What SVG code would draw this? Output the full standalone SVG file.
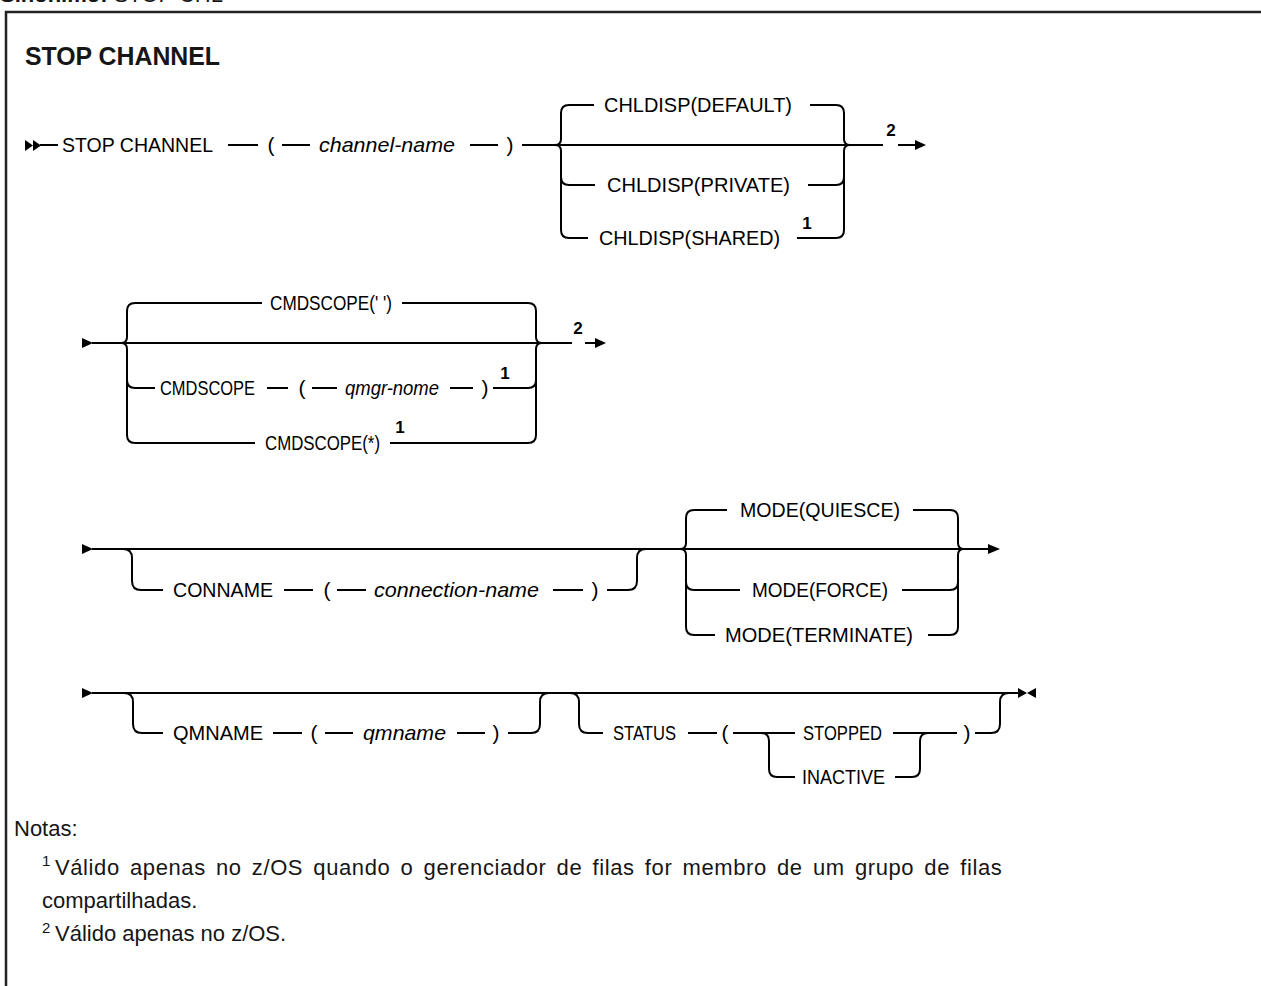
<svg xmlns="http://www.w3.org/2000/svg" width="1261" height="986" viewBox="0 0 1261 986">
<style>
.t{font-family:"Liberation Sans",Arial,sans-serif;font-size:21px;fill:#000;text-anchor:middle}
.i{font-style:italic}
.s{font-family:"Liberation Sans",Arial,sans-serif;font-size:17px;font-weight:bold;fill:#000;text-anchor:middle}
.n{font-family:"Liberation Sans",Arial,sans-serif;font-size:22px;fill:#161616}
.ns{font-family:"Liberation Sans",Arial,sans-serif;font-size:15px;fill:#161616}
.ln{fill:none;stroke:#000;stroke-width:2}
.ar{fill:#000}
</style>
<rect width="1261" height="986" fill="#fff"/>
<text x="0" y="2" class="n"><tspan font-weight="bold">Sinônimo:</tspan> STOP CHL</text>
<path d="M6,986 V12 H1261" fill="none" stroke="#222" stroke-width="2.5"/>
<text x="25" y="65" font-family="Liberation Sans,Arial,sans-serif" font-size="25" font-weight="bold" fill="#161616" textLength="195" lengthAdjust="spacingAndGlyphs">STOP CHANNEL</text>

<g id="connectors">
<!-- row 1 -->
<polygon class="ar" points="25,140 25,151 33,145.5"/>
<polygon class="ar" points="33,140 33,151 41,145.5"/>
<path class="ln" d="M40,145 H58 M228,145 H258 M282,145 H310 M470,145 H498 M522,145 H883 M898,145 H916"/>
<polygon class="ar" points="915,140 915,150 926,145"/>
<path class="ln" d="M561,113 V139 Q561,145 555,145 Q561,145 561,151 V230"/>
<path class="ln" d="M844,113 V139 Q844,145 850,145 Q844,145 844,151 V230"/>
<path class="ln" d="M561,113 Q561,105 569,105 H594 M810,105 H836 Q844,105 844,113"/>
<path class="ln" d="M561,177 Q561,185 569,185 H595 M808,185 H836 Q844,185 844,177"/>
<path class="ln" d="M561,230 Q561,238 569,238 H588 M797,238 H836 Q844,238 844,230"/>
<!-- row 2 -->
<polygon class="ar" points="82,338 82,348 93,343"/>
<path class="ln" d="M92,343 H572 M585,343 H596"/>
<polygon class="ar" points="595,338 595,348 606,343"/>
<path class="ln" d="M127,311 V337 Q127,343 121,343 Q127,343 127,349 V435"/>
<path class="ln" d="M536,311 V337 Q536,343 542,343 Q536,343 536,349 V435"/>
<path class="ln" d="M127,311 Q127,303 135,303 H262 M402,303 H528 Q536,303 536,311"/>
<path class="ln" d="M127,380 Q127,388 135,388 H155 M267,388 H288 M312,388 H337 M450,388 H473 M493,388 H528 Q536,388 536,380"/>
<path class="ln" d="M127,435 Q127,443 135,443 H255 M390,443 H528 Q536,443 536,435"/>
<!-- row 3 -->
<polygon class="ar" points="82,544 82,554 93,549"/>
<path class="ln" d="M92,549 H989"/>
<polygon class="ar" points="988,544 988,554 1000,549"/>
<path class="ln" d="M123,549 Q132,549 132,558 V581 Q132,590 141,590 H163 M284,590 H313 M337,590 H366 M553,590 H583 M607,590 H628 Q637,590 637,581 V558 Q637,549 646,549"/>
<path class="ln" d="M686,518 V543 Q686,549 680,549 Q686,549 686,555 V627"/>
<path class="ln" d="M958,518 V543 Q958,549 964,549 Q958,549 958,555 V627"/>
<path class="ln" d="M686,518 Q686,510 694,510 H727 M913,510 H950 Q958,510 958,518"/>
<path class="ln" d="M686,582 Q686,590 694,590 H740 M902,590 H950 Q958,590 958,582"/>
<path class="ln" d="M686,627 Q686,635 694,635 H715 M928,635 H950 Q958,635 958,627"/>
<!-- row 4 -->
<polygon class="ar" points="82,688 82,698 93,693"/>
<path class="ln" d="M92,693 H1019"/>
<polygon class="ar" points="1018,688 1018,698 1027,693"/>
<polygon class="ar" points="1036,688 1036,698 1027,693"/>
<path class="ln" d="M124,693 Q133,693 133,702 V724 Q133,733 142,733 H163 M273,733 H302 M325,733 H353 M457,733 H485 M508,733 H531 Q540,733 540,724 V702 Q540,693 549,693"/>
<path class="ln" d="M570,693 Q579,693 579,702 V724 Q579,733 588,733 H603 M688,733 H717 M733,733 H795 M893,733 H957 M975,733 H991 Q1000,733 1000,724 V702 Q1000,693 1009,693"/>
<path class="ln" d="M761,733 Q769,733 769,741 V769 Q769,777 777,777 H795 M895,777 H912 Q920,777 920,769 V741 Q920,733 928,733"/>
</g>

<g id="n-stop"><text class="t" x="137.5" y="152" textLength="151" lengthAdjust="spacingAndGlyphs">STOP CHANNEL</text></g>
<g id="n-lp1"><text class="t" x="271" y="152">(</text></g>
<g id="n-chname"><text class="t i" x="387" y="152" textLength="136" lengthAdjust="spacingAndGlyphs">channel-name</text></g>
<g id="n-rp1"><text class="t" x="510" y="152">)</text></g>
<g id="n-default"><text class="t" x="698" y="112" textLength="188" lengthAdjust="spacingAndGlyphs">CHLDISP(DEFAULT)</text></g>
<g id="n-private"><text class="t" x="698.5" y="192" textLength="183" lengthAdjust="spacingAndGlyphs">CHLDISP(PRIVATE)</text></g>
<g id="n-shared"><text class="t" x="689.5" y="245" textLength="181" lengthAdjust="spacingAndGlyphs">CHLDISP(SHARED)</text><text class="s" x="807" y="229">1</text></g>
<g id="n-note2a"><text class="s" x="891" y="136">2</text></g>

<g id="n-cmdq"><text class="t" x="331" y="310" textLength="122" lengthAdjust="spacingAndGlyphs">CMDSCOPE(' ')</text></g>
<g id="n-cmdqm"><text class="t" x="207.5" y="395" textLength="95" lengthAdjust="spacingAndGlyphs">CMDSCOPE</text><text class="t" x="302" y="395">(</text><text class="t i" x="392" y="395" textLength="94" lengthAdjust="spacingAndGlyphs">qmgr-nome</text><text class="t" x="485" y="395">)</text><text class="s" x="505" y="379">1</text></g>
<g id="n-cmdstar"><text class="t" x="322.5" y="450" textLength="115" lengthAdjust="spacingAndGlyphs">CMDSCOPE(*)</text><text class="s" x="400" y="433">1</text></g>
<g id="n-note2b"><text class="s" x="578" y="334">2</text></g>

<g id="n-conname"><text class="t" x="223" y="597" textLength="100" lengthAdjust="spacingAndGlyphs">CONNAME</text><text class="t" x="327" y="597">(</text><text class="t i" x="456.5" y="597" textLength="165" lengthAdjust="spacingAndGlyphs">connection-name</text><text class="t" x="595" y="597">)</text></g>
<g id="n-quiesce"><text class="t" x="820" y="517" textLength="160" lengthAdjust="spacingAndGlyphs">MODE(QUIESCE)</text></g>
<g id="n-force"><text class="t" x="820" y="597" textLength="136" lengthAdjust="spacingAndGlyphs">MODE(FORCE)</text></g>
<g id="n-terminate"><text class="t" x="819" y="642" textLength="188" lengthAdjust="spacingAndGlyphs">MODE(TERMINATE)</text></g>

<g id="n-qmname"><text class="t" x="218" y="740" textLength="90" lengthAdjust="spacingAndGlyphs">QMNAME</text><text class="t" x="314" y="740">(</text><text class="t i" x="404.5" y="740" textLength="83" lengthAdjust="spacingAndGlyphs">qmname</text><text class="t" x="496" y="740">)</text></g>
<g id="n-status"><text class="t" x="644.5" y="740" textLength="63" lengthAdjust="spacingAndGlyphs">STATUS</text><text class="t" x="725" y="740">(</text><text class="t" x="967" y="740">)</text></g>
<g id="n-stopped"><text class="t" x="842.5" y="740" textLength="79" lengthAdjust="spacingAndGlyphs">STOPPED</text></g>
<g id="n-inactive"><text class="t" x="843.5" y="784" textLength="83" lengthAdjust="spacingAndGlyphs">INACTIVE</text></g>

<g id="notes">
<text class="n" x="14" y="836">Notas:</text>
<text class="ns" x="42" y="866">1</text>
<text class="n" x="55" y="875" letter-spacing="0.6" word-spacing="3.5">Válido apenas no z/OS quando o gerenciador de filas for membro de um grupo de filas</text>
<text class="n" x="42" y="908">compartilhadas.</text>
<text class="ns" x="42" y="933">2</text>
<text class="n" x="55" y="941">Válido apenas no z/OS.</text>
</g>
</svg>
